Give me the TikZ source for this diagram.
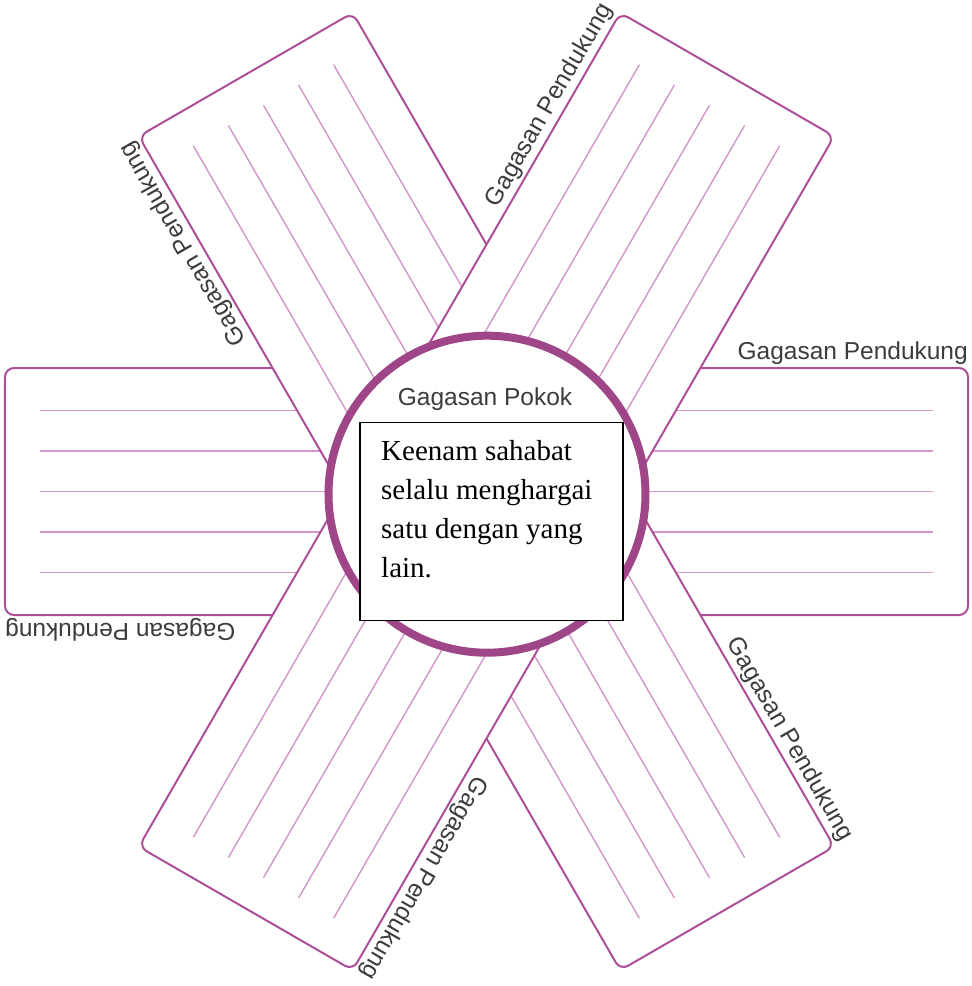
\documentclass[tikz,border=0pt]{standalone}
\usepackage{fontspec}
\usepackage{tikz}
\newfontfamily\labelfont{Liberation Sans}
\newfontfamily\boxfont{Liberation Serif}
\definecolor{barpurple}{RGB}{172,78,152}
\definecolor{ringpurple}{RGB}{158,70,135}
\definecolor{rulepink}{RGB}{210,150,200}
\definecolor{labelgray}{RGB}{60,60,60}

\begin{document}
\begin{tikzpicture}
		[x=1pt,y=1pt,
		bar/.style={draw=barpurple,line width=2pt,fill=white,rounded corners=9pt},
		rule/.style={draw=rulepink,line width=1.4pt},
		pendukung/.style={font=\labelfont\fontsize{24.5}{28}\selectfont,text=labelgray,inner sep=0pt,anchor=base east},
		ring/.style={circle,draw=ringpurple,line width=8pt,fill=white,minimum size=317pt,inner sep=0pt},
		box/.style={draw=black,line width=1.5pt,fill=white,minimum width=263pt,minimum height=198pt,inner sep=0pt}]
		\useasboundingbox (-486.5,-494.5) rectangle (485.5,491.5);
		
		\foreach \a in {0,120,60}{
		\begin{scope}[rotate=\a]
		\draw[bar] (-481.5,-123.5) rectangle (481.5,123.5);
		\foreach \y in {81,40.5,0,-40.5,-81}
		\draw[rule] (-446,\y) -- (446,\y);
		\end{scope}}
		
		\foreach \a/\p in {0/r,60/ur,120/ul,180/l,240/ll,300/lr}{
		\begin{scope}[rotate=\a]
		\node[pendukung,rotate=\a] (g\p) at (481.5,132) {Gagasan Pendukung};
		\end{scope}}
		
		\node[ring] (pokok) at (0.5,-2.7) {};
		\node[font=\labelfont\fontsize{24.5}{28}\selectfont,text=labelgray,inner sep=0pt,anchor=base] (judul) at (-1.5,86) {Gagasan Pokok};
		\node[box] (isi) at (5,-30.2) {};
		\node[font=\boxfont\fontsize{29}{39}\selectfont,align=left,inner sep=0pt,anchor=north west] (teks) at (-105.5,51.3) {Keenam sahabat\\selalu menghargai\\satu dengan yang\\lain.};
\end{tikzpicture}
\end{document}
